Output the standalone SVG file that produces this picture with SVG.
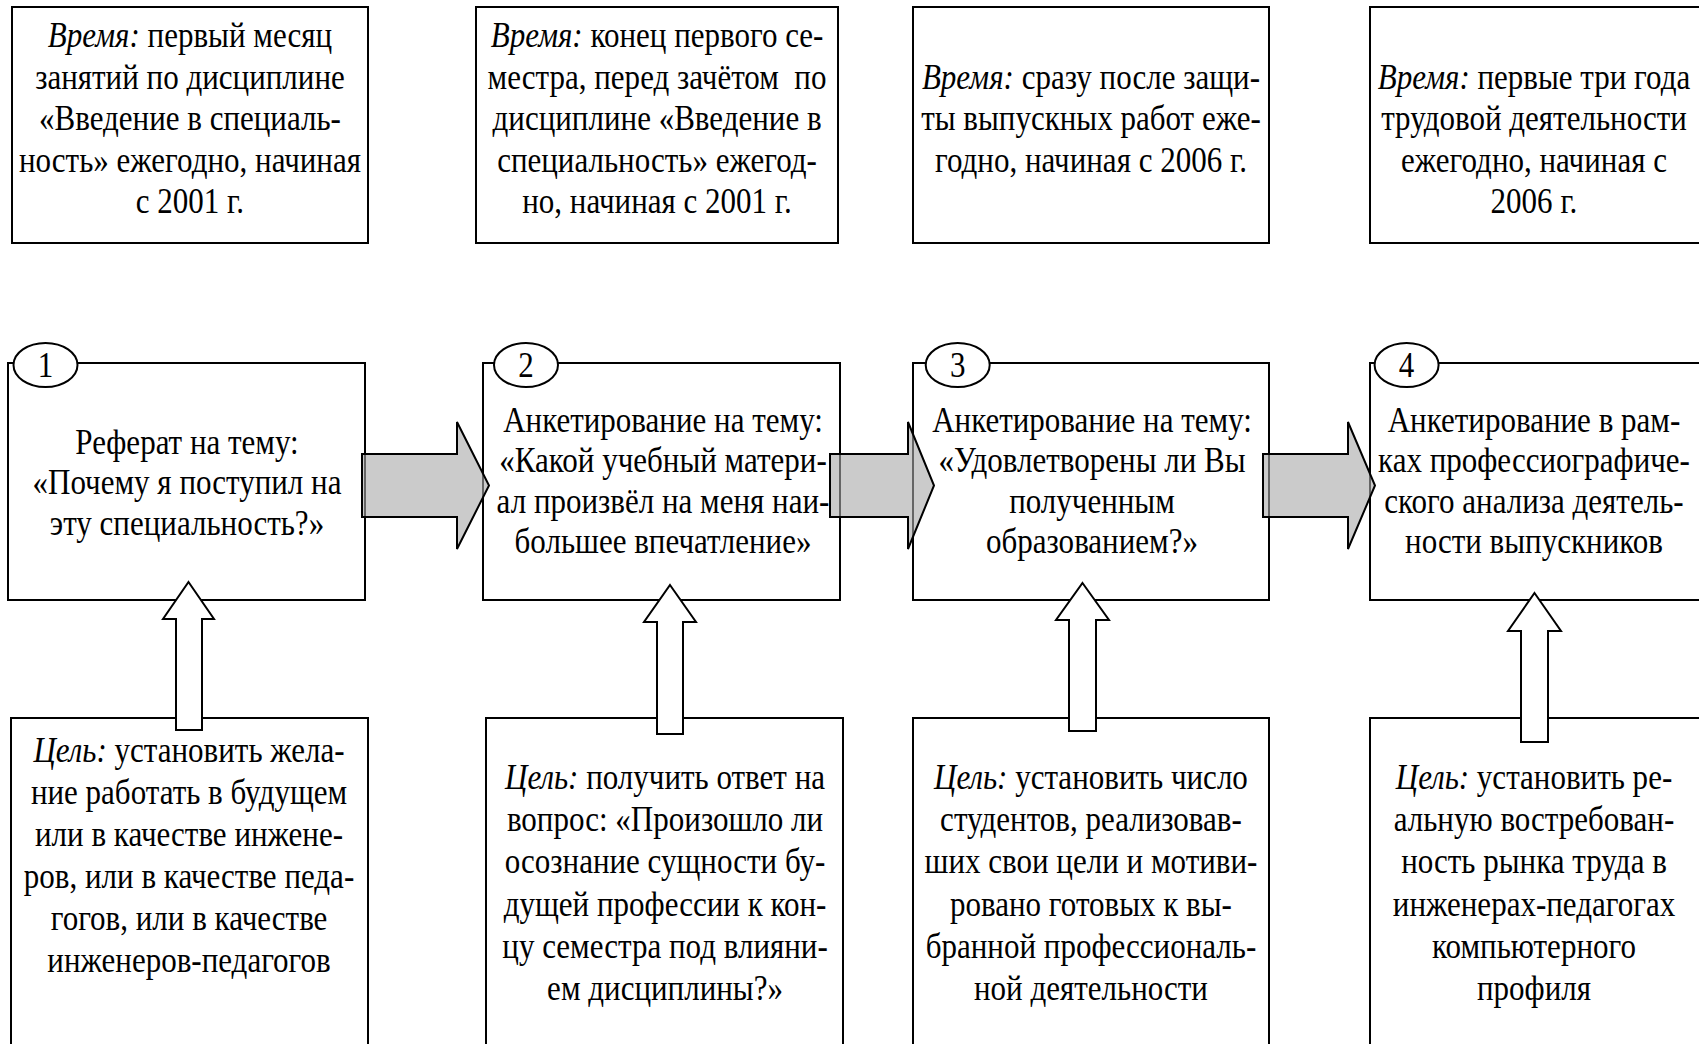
<svg xmlns="http://www.w3.org/2000/svg" width="1699" height="1044" viewBox="0 0 1699 1044">
<style>
.box{fill:none;stroke:#000;stroke-width:2}
.num{fill:#fff;stroke:#000;stroke-width:2}
.ha{fill:#a8a8a8;fill-opacity:0.6;stroke:#000;stroke-width:2;stroke-linejoin:miter}
.va{fill:#fff;stroke:#000;stroke-width:2;stroke-linejoin:miter}
text{font-family:"Liberation Serif","Times New Roman",serif;font-size:36.5px;fill:#000;text-anchor:middle}
.i{font-style:italic}
</style>
<rect x="0" y="0" width="1699" height="1044" fill="#fff"/>

<g id="time1">
<rect class="box" x="12" y="7" width="356" height="236"/>
<g transform="scale(0.85 1)">
<text x="223.5" y="47"><tspan class="i">Время:</tspan> первый месяц</text>
<text x="223.5" y="89">занятий по дисциплине</text>
<text x="223.5" y="130">«Введение в специаль-</text>
<text x="223.5" y="172">ность» ежегодно, начиная</text>
<text x="223.5" y="213">с 2001 г.</text>
</g>
</g>
<g id="time2">
<rect class="box" x="476" y="7" width="362" height="236"/>
<g transform="scale(0.85 1)">
<text x="773" y="47"><tspan class="i">Время:</tspan> конец первого се-</text>
<text x="773" y="89" style="white-space:pre">местра, перед зачётом  по</text>
<text x="773" y="130">дисциплине «Введение в</text>
<text x="773" y="172">специальность» ежегод-</text>
<text x="773" y="213">но, начиная с 2001 г.</text>
</g>
</g>
<g id="time3">
<rect class="box" x="913" y="7" width="356" height="236"/>
<g transform="scale(0.85 1)">
<text x="1283.5" y="89"><tspan class="i">Время:</tspan> сразу после защи-</text>
<text x="1283.5" y="130">ты выпускных работ еже-</text>
<text x="1283.5" y="172">годно, начиная с 2006 г.</text>
</g>
</g>
<g id="time4">
<rect class="box" x="1370" y="7" width="345" height="236"/>
<g transform="scale(0.85 1)">
<text x="1804.7" y="89"><tspan class="i">Время:</tspan> первые три года</text>
<text x="1804.7" y="130">трудовой деятельности</text>
<text x="1804.7" y="172">ежегодно, начиная с</text>
<text x="1804.7" y="213">2006 г.</text>
</g>
</g>

<g id="step1">
<rect class="box" x="8" y="363" width="357" height="237"/>
<ellipse class="num" cx="45.5" cy="365" rx="32" ry="22"/>
<g transform="scale(0.85 1)">
<text x="53.5" y="377">1</text>
<text x="220" y="454">Реферат на тему:</text>
<text x="220" y="494">«Почему я поступил на</text>
<text x="220" y="535">эту специальность?»</text>
</g>
</g>
<g id="step2">
<rect class="box" x="483" y="363" width="357" height="237"/>
<ellipse class="num" cx="526" cy="365" rx="32" ry="22"/>
<g transform="scale(0.85 1)">
<text x="618.8" y="377">2</text>
<text x="780" y="432">Анкетирование на тему:</text>
<text x="780" y="472">«Какой учебный матери-</text>
<text x="780" y="513">ал произвёл на меня наи-</text>
<text x="780" y="553">большее впечатление»</text>
</g>
</g>
<g id="step3">
<rect class="box" x="913" y="363" width="356" height="237"/>
<ellipse class="num" cx="957.7" cy="365" rx="32" ry="22"/>
<g transform="scale(0.85 1)">
<text x="1126.7" y="377">3</text>
<text x="1284.7" y="432">Анкетирование на тему:</text>
<text x="1284.7" y="472">«Удовлетворены ли Вы</text>
<text x="1284.7" y="513">полученным</text>
<text x="1284.7" y="553">образованием?»</text>
</g>
</g>
<g id="step4">
<rect class="box" x="1370" y="363" width="345" height="237"/>
<ellipse class="num" cx="1406.6" cy="365" rx="32" ry="22"/>
<g transform="scale(0.85 1)">
<text x="1654.8" y="377">4</text>
<text x="1804.7" y="432">Анкетирование в рам-</text>
<text x="1804.7" y="472">ках профессиографиче-</text>
<text x="1804.7" y="513">ского анализа деятель-</text>
<text x="1804.7" y="553">ности выпускников</text>
</g>
</g>

<g id="goal1">
<rect class="box" x="11" y="718" width="357" height="340"/>
<g transform="scale(0.85 1)">
<text x="222.4" y="762"><tspan class="i">Цель:</tspan> установить жела-</text>
<text x="222.4" y="804">ние работать в будущем</text>
<text x="222.4" y="846">или в качестве инжене-</text>
<text x="222.4" y="888">ров, или в качестве педа-</text>
<text x="222.4" y="930">гогов, или в качестве</text>
<text x="222.4" y="972">инженеров-педагогов</text>
</g>
</g>
<g id="goal2">
<rect class="box" x="486" y="718" width="357" height="340"/>
<g transform="scale(0.85 1)">
<text x="782.4" y="789"><tspan class="i">Цель:</tspan> получить ответ на</text>
<text x="782.4" y="831">вопрос: «Произошло ли</text>
<text x="782.4" y="873">осознание сущности бу-</text>
<text x="782.4" y="916">дущей профессии к кон-</text>
<text x="782.4" y="958">цу семестра под влияни-</text>
<text x="782.4" y="1000">ем дисциплины?»</text>
</g>
</g>
<g id="goal3">
<rect class="box" x="913" y="718" width="356" height="340"/>
<g transform="scale(0.85 1)">
<text x="1283.5" y="789"><tspan class="i">Цель:</tspan> установить число</text>
<text x="1283.5" y="831">студентов, реализовав-</text>
<text x="1283.5" y="873">ших свои цели и мотиви-</text>
<text x="1283.5" y="916">ровано готовых к вы-</text>
<text x="1283.5" y="958">бранной профессиональ-</text>
<text x="1283.5" y="1000">ной деятельности</text>
</g>
</g>
<g id="goal4">
<rect class="box" x="1370" y="718" width="345" height="340"/>
<g transform="scale(0.85 1)">
<text x="1804.7" y="789"><tspan class="i">Цель:</tspan> установить ре-</text>
<text x="1804.7" y="831">альную востребован-</text>
<text x="1804.7" y="873">ность рынка труда в</text>
<text x="1804.7" y="916">инженерах-педагогах</text>
<text x="1804.7" y="958">компьютерного</text>
<text x="1804.7" y="1000">профиля</text>
</g>
</g>

<g id="connectors">
<polygon class="ha" points="362,454 457,454 457,422 489,485.5 457,549 457,517 362,517"/>
<polygon class="ha" points="830,454 908,454 908,422 934,485.5 908,549 908,517 830,517"/>
<polygon class="ha" points="1263,454 1348,454 1348,422 1375,485.5 1348,549 1348,517 1263,517"/>
<polygon class="va" points="188.5,582 214,619 202,619 202,730 176,730 176,619 163,619"/>
<polygon class="va" points="670,585 696,622 683,622 683,734 657,734 657,622 644,622"/>
<polygon class="va" points="1082.5,583 1109,620 1096,620 1096,731 1069,731 1069,620 1056,620"/>
<polygon class="va" points="1534.5,593 1561,631 1548,631 1548,742 1521,742 1521,631 1508,631"/>
</g>
</svg>
